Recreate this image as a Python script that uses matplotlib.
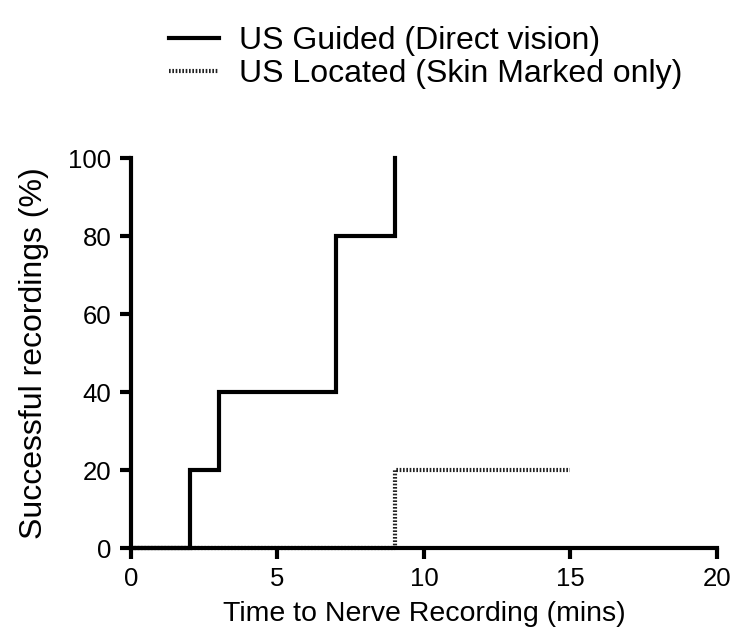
import matplotlib.pyplot as plt

plt.rcParams['font.family'] = ['Liberation Sans', 'DejaVu Sans']

# time (mins) at which cumulative success steps up
guided_t = [0, 2, 3, 7, 9]
guided_pct = [0, 20, 40, 80, 100]
located_t = [0, 9, 15]
located_pct = [0, 20, 20]

fig = plt.figure(figsize=(7.36, 6.43), dpi=100)
ax = fig.add_axes([0.178, 0.1477, 0.796, 0.6063])

ax.step(guided_t, guided_pct, where='post', color='black', lw=3,
        label='US Guided (Direct vision)', clip_on=False, zorder=3,
        solid_joinstyle='miter')
ax.step(located_t, located_pct, where='post', color='#222222', lw=3,
        linestyle=(0, (0.4, 0.4)), label='US Located (Skin Marked only)',
        clip_on=False, zorder=2)

ax.set_xlim(0, 20)
ax.set_ylim(0, 100)
ax.set_xticks([0, 5, 10, 15, 20])
ax.set_yticks([0, 20, 40, 60, 80, 100])
for side in ['top', 'right']:
    ax.spines[side].set_visible(False)
for side in ['left', 'bottom']:
    ax.spines[side].set_linewidth(3)
ax.tick_params(width=3, length=8, labelsize=18.5, pad=6)
ax.set_xlabel('Time to Nerve Recording (mins)', fontsize=20.5, labelpad=7)
ax.set_ylabel('Successful recordings (%)', fontsize=23, labelpad=14)

leg = ax.legend(loc='upper left', bbox_to_anchor=(169 / 736, 1 - 26 / 643),
                bbox_transform=fig.transFigure, frameon=False,
                fontsize=23, handlelength=1.55, handletextpad=0.65,
                labelspacing=0.1, borderaxespad=0, borderpad=0)

fig.savefig('out.png', dpi=100)
